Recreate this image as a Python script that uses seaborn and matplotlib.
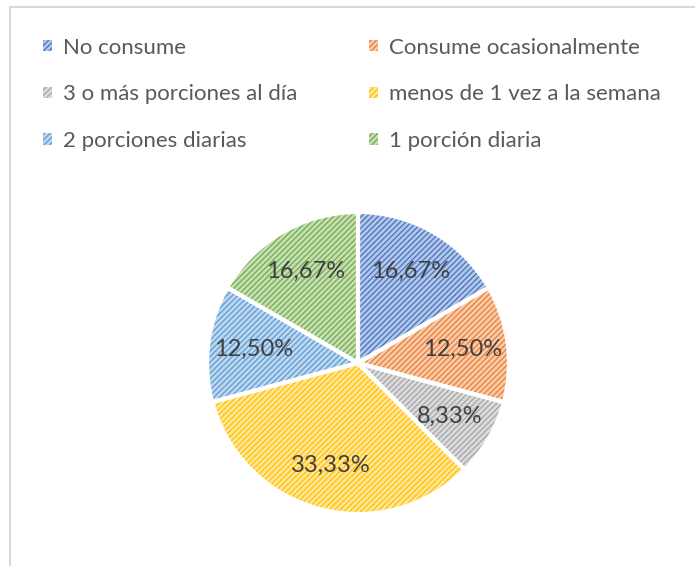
import matplotlib
matplotlib.use("Agg")
import matplotlib.pyplot as plt
import seaborn as sns
import numpy as np
from matplotlib.patches import Rectangle, Patch
import matplotlib.colors as mcolors

categories = ["No consume", "Consume ocasionalmente", "3 o más porciones al día",
              "menos de 1 vez a la semana", "2 porciones diarias", "1 porción diaria"]
values = [16.67, 12.50, 8.33, 33.33, 12.50, 16.67]
colors = ["#4472C4", "#ED7D31", "#A5A5A5", "#FFC000", "#5B9BD5", "#70AD47"]

sns.set_theme(style="white")
plt.rcParams['font.family'] = ['Lato', 'DejaVu Sans']
plt.rcParams['hatch.linewidth'] = 0.9

def tint(c, f=0.6):
    r, g, b = mcolors.to_rgb(c)
    return (r + (1 - r) * f, g + (1 - g) * f, b + (1 - b) * f)

fig = plt.figure(figsize=(6.95, 5.66), dpi=100)
fig.patch.set_facecolor("white")

# outer frame (partially visible)
fig.add_artist(Rectangle((10 / 695, -0.1), 1.2, 1 - 7 / 566 + 0.1,
                         transform=fig.transFigure, fill=False,
                         edgecolor="#D9D9D9", linewidth=1.5))

ax = fig.add_axes([(358 - 151) / 695, (566 - 363 - 151) / 566, 302 / 695, 302 / 566])
total = sum(values)
labels = [f"{v / total * 100:.2f}%".replace(".", ",") for v in values]

wedges, _ = ax.pie(values, colors=[tint(c) for c in colors], startangle=90,
                   counterclock=False,
                   wedgeprops=dict(linewidth=0, hatch="//////"))
for w, c in zip(wedges, colors):
    w.set_edgecolor(c)
ax.pie(values, colors=["none"] * len(values), startangle=90, counterclock=False,
       wedgeprops=dict(linewidth=3, edgecolor="white", fill=False))
for w, lab in zip(wedges, labels):
    ang = np.deg2rad((w.theta1 + w.theta2) / 2)
    ax.text(0.70 * np.cos(ang), 0.70 * np.sin(ang), lab, ha="center", va="center",
            fontsize=17, color="#404040")
ax.set_xlim(-1, 1)
ax.set_ylim(-1, 1)
ax.set_aspect("equal")
ax.axis("off")

def handles(idx):
    return [Patch(facecolor=tint(colors[i]), edgecolor=colors[i], hatch="//////", linewidth=0)
            for i in idx]

leg_kw = dict(frameon=False, fontsize=16, labelcolor="#595959", handlelength=0.4,
              handleheight=0.4, handletextpad=0.5, labelspacing=1.2, loc="upper left",
              borderaxespad=0, borderpad=0)
l1 = fig.legend(handles([0, 2, 4]), [categories[i] for i in [0, 2, 4]],
                bbox_to_anchor=(43 / 695, 1 - 37.5 / 566), **leg_kw)
l2 = fig.legend(handles([1, 3, 5]), [categories[i] for i in [1, 3, 5]],
                bbox_to_anchor=(369 / 695, 1 - 37.5 / 566), **leg_kw)

fig.savefig("out.png", dpi=100)
